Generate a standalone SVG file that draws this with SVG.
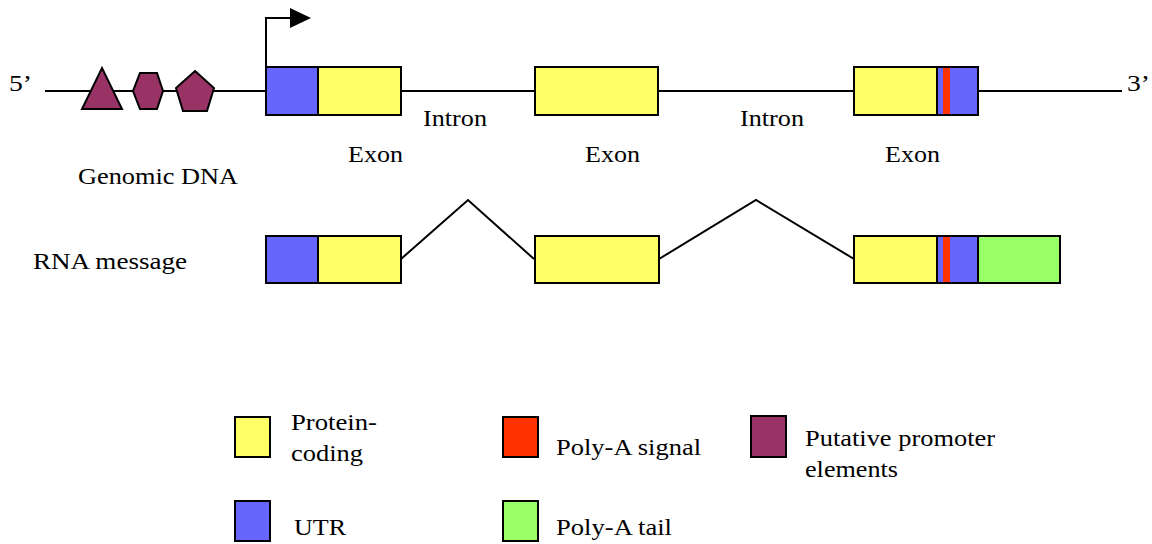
<svg xmlns="http://www.w3.org/2000/svg" width="1152" height="544" viewBox="0 0 1152 544">
<style>
text{font-family:"Times New Roman",Times,"Liberation Serif",Tinos,serif;font-size:24px;fill:#000}
.ln{stroke:#000;stroke-width:2;fill:none}
.bx{stroke:#000;stroke-width:2}
.y{fill:#FFFF66}.b{fill:#6666FF}.r{fill:#FF3300}.g{fill:#99FF66}.p{fill:#993366}
</style>
<rect width="1152" height="544" fill="#fff"/>
<g id="connectors">
<line class="ln" x1="45" y1="91" x2="1122" y2="91"/>
<path class="ln" d="M266 67 V18 H292"/>
<polygon points="290,8 311,18 290,28" fill="#000"/>
<polyline class="ln" points="401,259 468,200 534,259"/>
<polyline class="ln" points="659,259 756,200 854,259"/>
</g>
<g id="labels-dna">
<text x="9" y="91" textLength="23" lengthAdjust="spacingAndGlyphs">5’</text>
<text x="1127" y="91" textLength="23" lengthAdjust="spacingAndGlyphs">3’</text>
<text x="423" y="126" textLength="64" lengthAdjust="spacingAndGlyphs">Intron</text>
<text x="740" y="126" textLength="64" lengthAdjust="spacingAndGlyphs">Intron</text>
<text x="348" y="162" textLength="55" lengthAdjust="spacingAndGlyphs">Exon</text>
<text x="585" y="162" textLength="55" lengthAdjust="spacingAndGlyphs">Exon</text>
<text x="885" y="162" textLength="55" lengthAdjust="spacingAndGlyphs">Exon</text>
<text x="78" y="184" textLength="160" lengthAdjust="spacingAndGlyphs">Genomic DNA</text>
<text x="33" y="269" textLength="154" lengthAdjust="spacingAndGlyphs">RNA message</text>
</g>
<g id="promoters">
<polygon class="bx p" points="82,109 122,109 102,68"/>
<polygon class="bx p" points="140,73 157,73 163,91 157,109 140,109 133,91"/>
<polygon class="bx p" points="195,71 214,88 207,111 183,111 176,88"/>
</g>
<g id="dna-exon1">
<rect class="bx b" x="266" y="67" width="52" height="48"/>
<rect class="bx y" x="318" y="67" width="83" height="48"/>
</g>
<g id="dna-exon2">
<rect class="bx y" x="535" y="67" width="123" height="48"/>
</g>
<g id="dna-exon3">
<rect class="bx y" x="854" y="67" width="83" height="48"/>
<rect class="bx b" x="937" y="67" width="41" height="48"/>
<rect class="r" x="943" y="68" width="7" height="46"/>
</g>
<g id="rna-exon1">
<rect class="bx b" x="266" y="236" width="52" height="47"/>
<rect class="bx y" x="318" y="236" width="83" height="47"/>
</g>
<g id="rna-exon2">
<rect class="bx y" x="535" y="236" width="124" height="47"/>
</g>
<g id="rna-exon3">
<rect class="bx y" x="854" y="236" width="83" height="47"/>
<rect class="bx b" x="937" y="236" width="41" height="47"/>
<rect class="r" x="943" y="237" width="7" height="45"/>
<rect class="bx g" x="978" y="236" width="82" height="47"/>
</g>
<g id="legend-protein">
<rect class="bx y" x="235" y="417" width="35" height="40"/>
<text x="291" y="430" textLength="86" lengthAdjust="spacingAndGlyphs">Protein-</text>
<text x="291" y="461" textLength="72" lengthAdjust="spacingAndGlyphs">coding</text>
</g>
<g id="legend-utr">
<rect class="bx b" x="235" y="501" width="35" height="40"/>
<text x="294" y="535" textLength="52" lengthAdjust="spacingAndGlyphs">UTR</text>
</g>
<g id="legend-polya-signal">
<rect class="bx r" x="503" y="417" width="35" height="40"/>
<text x="556" y="455" textLength="145" lengthAdjust="spacingAndGlyphs">Poly-A signal</text>
</g>
<g id="legend-polya-tail">
<rect class="bx g" x="503" y="501" width="35" height="40"/>
<text x="556" y="535" textLength="116" lengthAdjust="spacingAndGlyphs">Poly-A tail</text>
</g>
<g id="legend-promoter">
<rect class="bx p" x="751" y="416" width="35" height="41"/>
<text x="805" y="446" textLength="190" lengthAdjust="spacingAndGlyphs">Putative promoter</text>
<text x="805" y="477" textLength="93" lengthAdjust="spacingAndGlyphs">elements</text>
</g>
</svg>
